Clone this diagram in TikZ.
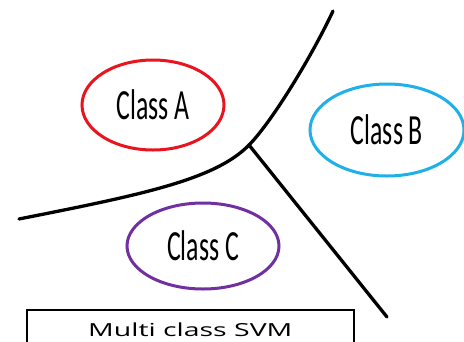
\documentclass[tikz,border=0pt]{standalone}
\usepackage{fontspec}
\usepackage{graphicx}
\setmainfont{Carlito}
\newfontfamily\boxfont{Open Sans}
\usetikzlibrary{shapes.geometric, positioning}
\definecolor{classred}{HTML}{E8141E}
\definecolor{classblue}{HTML}{1EB0E6}
\definecolor{classpurple}{HTML}{7030A0}
\begin{document}
\begin{tikzpicture}[x=1pt,y=-1pt]
 \tikzstyle{classoval}=[ellipse,line width=3pt,inner sep=0pt,
   font=\fontsize{43}{43}\selectfont]
 \tikzstyle{boundary}=[line width=3.3pt,line cap=round]
 \clip (0,0) rectangle (464,341);
 \fill[white] (0,0) rectangle (464,341);
 \node (classA) [classoval,draw=classred,minimum width=142pt,minimum height=90pt]
   at (153,105) {\raisebox{-4pt}{\scalebox{0.6}[1]{Class A}}};
 \node (classB) [classoval,draw=classblue,minimum width=154pt,minimum height=92pt]
   at (387,130) {\raisebox{-2pt}{\scalebox{0.6}[1]{Class B}}};
 \node (classC) [classoval,draw=classpurple,minimum width=152pt,minimum height=86pt]
   at (203,246) {\raisebox{-5pt}{\scalebox{0.6}[1]{Class C}}};
 \node (svm) [draw,line width=1.6pt,minimum width=327pt,minimum height=46pt,
   anchor=north west,font=\boxfont\fontsize{18}{18}\selectfont,
   text depth=0pt,inner sep=0pt] at (26,309)
   {\raisebox{6pt}{\scalebox{1.58}[1]{Multi class SVM}}};
 \coordinate (left) at (19,219);
 \coordinate (top) at (333,11);
 \coordinate (junction) at (249,145);
 \coordinate (bottom) at (387,317);
 \draw[boundary] (left) .. controls (140,195) and (215,180) .. (junction)
   .. controls (270,124) and (310,60) .. (top);
 \draw[boundary] (junction) -- (bottom);
\end{tikzpicture}
\end{document}
